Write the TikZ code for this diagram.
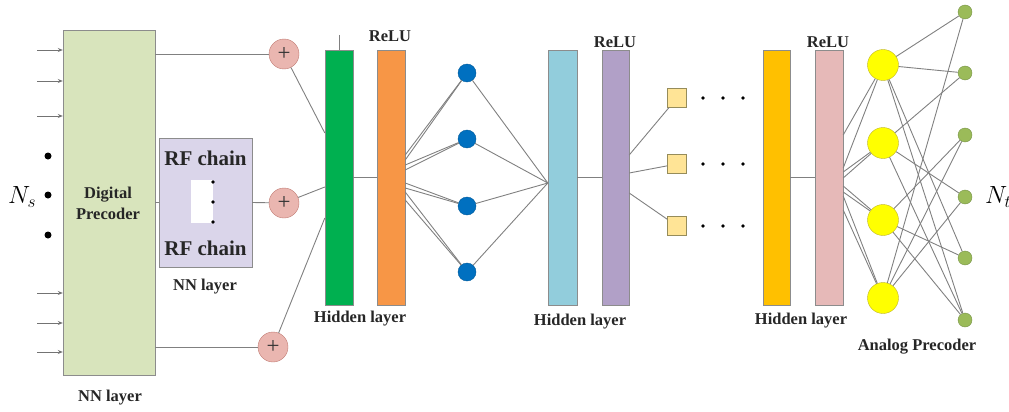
\documentclass[tikz,border=0pt]{standalone}
\usepackage{fontspec}
\setmainfont{Liberation Serif}
\usepackage{tikz}
\usetikzlibrary{arrows.meta,calc}
\definecolor{dpfill}{RGB}{216,228,188}
\definecolor{rffill}{RGB}{218,213,234}
\definecolor{plusfill}{RGB}{234,182,176}
\definecolor{plusstroke}{RGB}{192,122,114}
\definecolor{hidgreen}{RGB}{0,176,80}
\definecolor{reluorange}{RGB}{247,150,70}
\definecolor{dotblue}{RGB}{0,112,192}
\definecolor{hidblue}{RGB}{146,205,220}
\definecolor{relupurple}{RGB}{177,160,199}
\definecolor{sqfill}{RGB}{255,228,150}
\definecolor{sqstroke}{RGB}{150,140,90}
\definecolor{hidgold}{RGB}{255,192,0}
\definecolor{relupink}{RGB}{230,185,184}
\definecolor{apyellow}{RGB}{255,255,0}
\definecolor{apstroke}{RGB}{190,180,40}
\definecolor{antgreen}{RGB}{155,187,89}
\definecolor{antstroke}{RGB}{118,146,70}
\def\BarY{177.5}
\def\ApX{883}
\def\AntX{965}
\tikzset{
  bar/.style={
    draw=black!45, fill=#1, minimum width=28pt, minimum height=255pt,
    inner sep=0pt,
  },
  bar/.default=white,
  lbl/.style={font=\fontsize{16.5}{20}\selectfont\bfseries, text=black!85, inner sep=0pt},
  rflbl/.style={font=\fontsize{21}{24}\selectfont\bfseries, text=black!85, inner sep=0pt},
  wire/.style={draw=black!50, line width=0.9pt},
  inarr/.style={-{Stealth[length=5pt,width=4pt]}, draw=black!55, line width=0.9pt},
  adder/.style={
    circle, draw=plusstroke, fill=plusfill, minimum size=30pt, inner sep=0pt,
    font=\fontsize{23}{23}\selectfont, text=black!80,
  },
  hidden/.style={circle, draw=dotblue!80!black, fill=dotblue, minimum size=18pt, inner sep=0pt},
  cell/.style={draw=sqstroke, fill=sqfill, minimum size=19pt, inner sep=0pt},
  phase/.style={circle, draw=apstroke, fill=apyellow, minimum size=31pt, inner sep=0pt},
  ant/.style={circle, draw=antstroke, fill=antgreen, minimum size=14pt, inner sep=0pt},
}
\begin{document}
\begin{tikzpicture}[x=1pt,y=-1pt]
  \useasboundingbox (0,0) rectangle (1009,412);

  % digital precoder
  \node[draw=black!45, fill=dpfill, minimum width=92pt, minimum height=345pt, inner sep=0pt] (dp) at (109,202.5) {};
  \node[lbl, align=center, font=\fontsize{16.5}{21}\selectfont\bfseries] (dptxt) at (108,203) {Digital\\Precoder};
  \foreach \y in {50,81,116,293,323,352} {
    \coordinate (in\y) at (37,\y);
    \draw[inarr] (in\y) -- (dp.west |- in\y);
  }
  \foreach \y in {156,195,235}
    \fill (48,\y) circle (3.5pt);
  \node[font=\fontsize{25}{30}\selectfont] (ns) at (22,197) {$N_s$};
  \node[lbl] (nn1) at (110,398) {NN layer};

  % RF chains
  \node[draw=black!45, fill=rffill, minimum width=93pt, minimum height=129pt, inner sep=0pt] (rf) at (205.5,202.5) {};
  \node[rflbl] (rfa) at (205.5,158) {RF chain};
  \node[rflbl] (rfb) at (205.5,248) {RF chain};
  \node[fill=white, minimum width=22pt, minimum height=43pt, inner sep=0pt] (rfgap) at (202,201.5) {};
  \foreach \y in {182,202,222}
    \fill (213,\y) circle (1.8pt);
  \node[lbl] (nn2) at (205,287) {NN layer};

  % adders
  \node[adder] (p1) at (284,54) {+};
  \node[adder] (p2) at (284,203) {+};
  \node[adder] (p3) at (273,347) {+};
  \draw[wire] (dp.east |- p1) -- (p1);
  \draw[wire] (dp.east) -- (rf.west);
  \draw[wire] (rf.east) -- (p2);
  \draw[wire] (dp.east |- p3) -- (p3);

  % hidden layer 1
  \node[bar=hidgreen] (hid1) at (339,\BarY) {};
  \node[bar=reluorange] (relu1) at (391,\BarY) {};
  \coordinate (tick) at (339,35);
  \draw[wire] (tick) -- (hid1.north);
  \node[lbl] (relu1lbl) at (390,36) {ReLU};
  \node[lbl] (hl1) at (360,319) {Hidden layer};
  \draw[wire] (hid1) -- (relu1);
  \draw[wire] (p1) -- (hid1.west |- 0,133);
  \draw[wire] (p2) -- (hid1.west |- 0,187);
  \draw[wire] (p3) -- (hid1.west |- 0,218);

  % blue neurons
  \foreach \i/\y in {1/73,2/139,3/206,4/272}
    \node[hidden] (b\i) at (467,\y) {};
  \foreach \i/\ya/\yb in {1/155/160,2/165/170,3/183/188,4/192/200} {
    \draw[wire] (relu1.east |- 0,\ya) -- (b\i);
    \draw[wire] (relu1.east |- 0,\yb) -- (b\i);
  }

  % hidden layer 2
  \node[bar=hidblue, minimum width=29pt] (hid2) at (562.5,\BarY) {};
  \node[bar=relupurple, minimum width=27pt] (relu2) at (615.5,\BarY) {};
  \node[lbl] (relu2lbl) at (615,42) {ReLU};
  \node[lbl] (hl2) at (580,322) {Hidden layer};
  \coordinate (h2in) at (hid2.west |- 0,183);
  \foreach \i in {1,...,4}
    \draw[wire] (b\i) -- (h2in);
  \draw[wire] (hid2) -- (relu2);

  % cells
  \foreach \i/\y/\ya in {1/98/155,2/164/173,3/226/193} {
    \node[cell] (s\i) at (677,\y) {};
    \draw[wire] (relu2.east |- 0,\ya) -- (s\i);
    \foreach \x in {703,723,743}
      \fill (\x,\y) circle (1.8pt);
  }

  % hidden layer 3
  \node[bar=hidgold, minimum width=27pt] (hid3) at (776.5,\BarY) {};
  \node[bar=relupink] (relu3) at (829,\BarY) {};
  \node[lbl] (relu3lbl) at (828,42) {ReLU};
  \node[lbl] (hl3) at (801,321) {Hidden layer};
  \draw[wire] (hid3) -- (relu3);

  % analog precoder
  \foreach \i/\y in {1/65,2/143,3/220,4/298}
    \node[phase] (ap\i) at (\ApX,\y) {};
  \foreach \i/\ya/\yb in {1/135/168,2/172/178,3/186/192,4/196/210} {
    \draw[wire] (relu3.east |- 0,\ya) -- (ap\i);
    \draw[wire] (relu3.east |- 0,\yb) -- (ap\i);
  }
  \foreach \i/\y in {1/12,2/73,3/135,4/197,5/258,6/320}
    \node[ant] (ant\i) at (\AntX,\y) {};
  \foreach \a/\b in {1/1,1/2,1/5,1/6,2/2,2/4,2/6,3/3,3/5,3/6,4/1,4/3,4/4}
    \draw[wire] (ap\a) -- (ant\b);
  \node[font=\fontsize{25}{30}\selectfont, anchor=west, inner sep=0pt] (nt) at (985,197) {$N_t$};
  \node[lbl] (aplbl) at (917,347) {Analog Precoder};
\end{tikzpicture}
\end{document}
